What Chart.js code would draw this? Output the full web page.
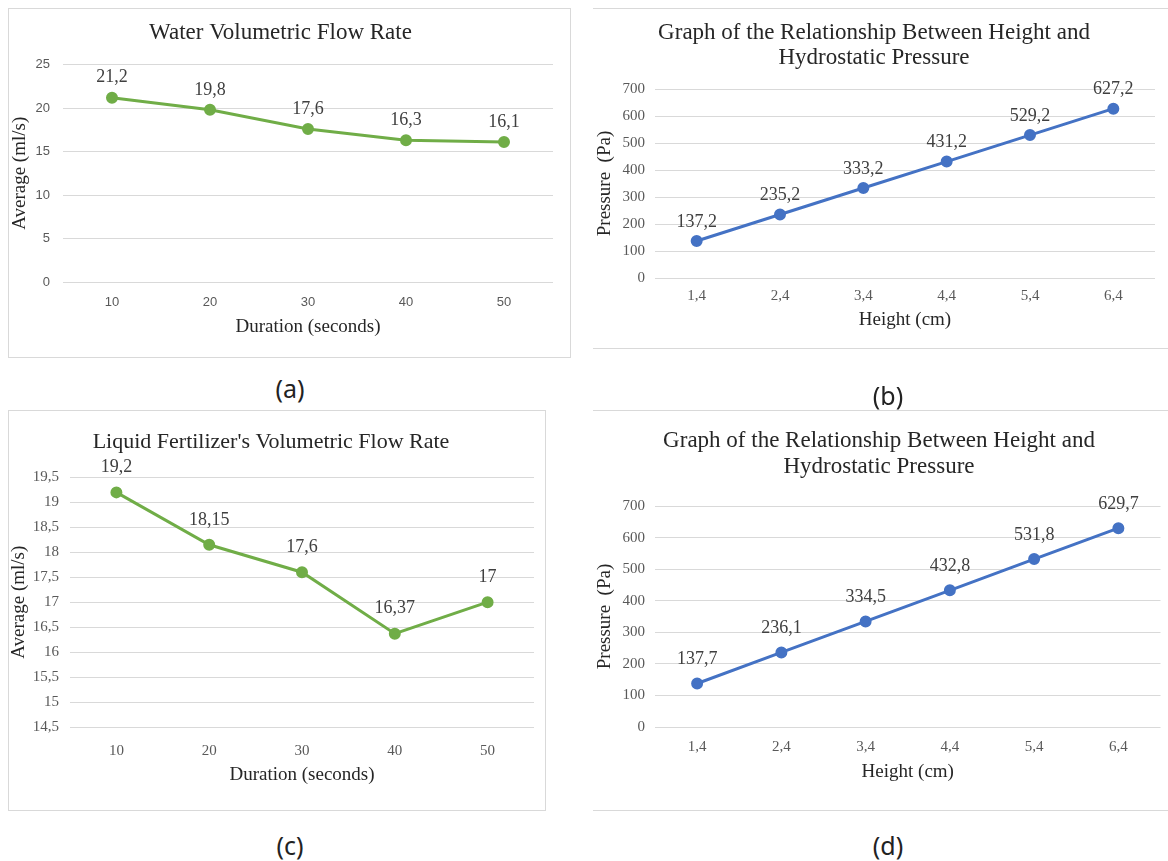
<!DOCTYPE html>
<html>
<head>
<meta charset="utf-8">
<script src="https://cdn.jsdelivr.net/npm/chart.js@4.4.0/dist/chart.umd.min.js"></script>
<style>
  body { margin: 0; background: #fff; }
  #page { position: relative; width: 1168px; height: 861px; overflow: hidden; }
  canvas { position: absolute; }
  .box { position: absolute; border: 1px solid #d9d9d9; box-sizing: border-box; }
  .hline { position: absolute; height: 0; border-top: 1px solid #d9d9d9; }
  .cap { position: absolute; width: 80px; text-align: center; font-family: 'Noto Sans', 'DejaVu Sans', sans-serif; font-size: 25px; color: #222; line-height: 30px; }
</style>
</head>
<body>
<div id="page">
  <div class="box" style="left:8px;top:8px;width:563px;height:350px;"></div>
  <div class="hline" style="left:593px;top:8px;width:575px;"></div>
  <div class="hline" style="left:593px;top:348px;width:575px;"></div>
  <div class="box" style="left:8px;top:410px;width:538px;height:401px;"></div>
  <div class="hline" style="left:593px;top:410px;width:575px;"></div>
  <div class="hline" style="left:593px;top:810px;width:575px;"></div>

  <canvas id="chartA" width="562" height="349" style="left:8px;top:8px;"></canvas>
  <canvas id="chartB" width="575" height="340" style="left:593px;top:8px;"></canvas>
  <canvas id="chartC" width="537" height="400" style="left:8px;top:410px;"></canvas>
  <canvas id="chartD" width="575" height="400" style="left:593px;top:410px;"></canvas>

  <div class="cap" style="left:250px;top:373px;">(a)</div>
  <div class="cap" style="left:848px;top:380px;">(b)</div>
  <div class="cap" style="left:250px;top:830px;">(c)</div>
  <div class="cap" style="left:848px;top:830px;">(d)</div>
</div>
<script>
// data
const durationLabels = ['10', '20', '30', '40', '50'];
const waterFlow = [21.2, 19.8, 17.6, 16.3, 16.1];
const fertilizerFlow = [19.2, 18.15, 17.6, 16.37, 17];
const heightLabels = ['1,4', '2,4', '3,4', '4,4', '5,4', '6,4'];
const pressureB = [137.2, 235.2, 333.2, 431.2, 529.2, 627.2];
const pressureD = [137.7, 236.1, 334.5, 432.8, 531.8, 629.7];

const GREEN = '#70AD47';
const BLUE = '#4472C4';
const SERIF = "'Liberation Serif', 'Times New Roman', serif";
const SANS = "'Liberation Sans', Arial, sans-serif";

Chart.defaults.font.family = SERIF;

function comma(v) {
    return String(v).replace('.', ',');
}

// writes each value above its point
const pointValues = {
    id: 'pointValues',
    afterDatasetsDraw(chart, args, opts) {
        const ctx = chart.ctx;
        const meta = chart.getDatasetMeta(0);
        const vals = chart.data.datasets[0].data;
        ctx.save();
        ctx.font = '18px ' + SERIF;
        ctx.fillStyle = '#404040';
        ctx.textAlign = 'center';
        ctx.textBaseline = 'middle';
        meta.data.forEach((pt, i) => {
            ctx.fillText(comma(vals[i]), pt.x, pt.y - opts.lift);
        });
        ctx.restore();
    }
};

function makeChart(id, o) {
    const ctx = document.getElementById(id).getContext('2d');
    return new Chart(ctx, {
        type: 'line',
        data: {
            labels: o.labels,
            datasets: [{
                data: o.values,
                borderColor: o.color,
                backgroundColor: o.color,
                borderWidth: 3,
                pointRadius: 4.5,
                pointHoverRadius: 4.5,
                tension: 0
            }]
        },
        options: {
            responsive: false,
            animation: false,
            devicePixelRatio: 1,
            layout: { padding: { top: 0, left: 0, bottom: 0, right: o.padRight } },
            plugins: {
                legend: { display: false },
                tooltip: { enabled: false },
                pointValues: { lift: o.lift },
                title: {
                    display: true,
                    text: o.title,
                    color: '#262626',
                    font: { size: o.titleSize, weight: 'normal', family: SERIF, lineHeight: o.titleLH },
                    padding: o.titlePad
                }
            },
            scales: {
                x: {
                    offset: true,
                    grid: { display: false, drawTicks: false, offset: true },
                    border: { display: false },
                    ticks: { color: '#595959', font: { size: o.tickSize, family: o.tickFamily }, padding: o.xTickPad, maxRotation: 0 },
                    title: { display: true, text: o.xTitle, color: '#262626', font: { size: 19, family: SERIF }, padding: { top: 0, bottom: o.xTitlePad } },
                    afterFit: s => { s.height = o.xHeight; }
                },
                y: {
                    min: o.yMin,
                    max: o.yMax,
                    grid: { color: '#d9d9d9', lineWidth: 1, drawTicks: false },
                    border: { display: false },
                    ticks: { stepSize: o.yStep, color: '#595959', font: { size: o.tickSize, family: o.tickFamily }, padding: o.yTickPad, callback: v => comma(v) },
                    title: { display: true, text: o.yTitle, color: '#262626', font: { size: 19, family: SERIF }, padding: { top: o.yTitlePad, bottom: 0 } },
                    afterFit: s => { s.width = o.yWidth; }
                }
            }
        },
        plugins: [pointValues]
    });
}

makeChart('chartA', {
    labels: durationLabels, values: waterFlow, color: GREEN, lift: 20,
    title: 'Water Volumetric Flow Rate', titleSize: 23, titleLH: 1.2, titlePad: { top: 11, bottom: 18 },
    xTitle: 'Duration (seconds)', yTitle: 'Average (ml/s)',
    yMin: 0, yMax: 25, yStep: 5,
    tickSize: 13, tickFamily: SANS,
    padRight: 17, yWidth: 55, yTickPad: 13, yTitlePad: 1,
    xHeight: 75, xTickPad: 13, xTitlePad: 19
});

makeChart('chartB', {
    labels: heightLabels, values: pressureB, color: BLUE, lift: 19,
    title: ['Graph of the Relationship Between Height and', 'Hydrostatic Pressure'], titleSize: 23, titleLH: 25 / 23, titlePad: { top: 12, bottom: 19 },
    xTitle: 'Height (cm)', yTitle: 'Pressure  (Pa)',
    yMin: 0, yMax: 700, yStep: 100,
    tickSize: 15, tickFamily: SERIF,
    padRight: 13, yWidth: 62, yTickPad: 10, yTitlePad: 1,
    xHeight: 70, xTickPad: 9, xTitlePad: 17
});

makeChart('chartC', {
    labels: durationLabels, values: fertilizerFlow, color: GREEN, lift: 25,
    title: "Liquid Fertilizer's Volumetric Flow Rate", titleSize: 22, titleLH: 1.2, titlePad: { top: 19, bottom: 22 },
    xTitle: 'Duration (seconds)', yTitle: 'Average (ml/s)',
    yMin: 14.5, yMax: 19.5, yStep: 0.5,
    tickSize: 15, tickFamily: SERIF,
    padRight: 11, yWidth: 62, yTickPad: 11, yTitlePad: 0,
    xHeight: 83, xTickPad: 15, xTitlePad: 24
});

makeChart('chartD', {
    labels: heightLabels, values: pressureD, color: BLUE, lift: 24,
    title: ['Graph of the Relationship Between Height and', 'Hydrostatic Pressure'], titleSize: 23, titleLH: 26 / 23, titlePad: { top: 18, bottom: 26 },
    xTitle: 'Height (cm)', yTitle: 'Pressure  (Pa)',
    yMin: 0, yMax: 700, yStep: 100,
    tickSize: 15, tickFamily: SERIF,
    padRight: 3, yWidth: 62, yTickPad: 10, yTitlePad: 1,
    xHeight: 83, xTickPad: 11, xTitlePad: 27
});
</script>
</body>
</html>
